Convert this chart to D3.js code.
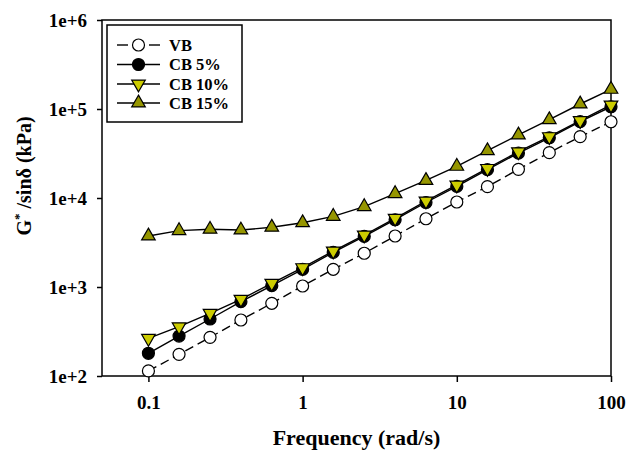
<!DOCTYPE html>
<html>
<head>
<meta charset="utf-8">
<script src="https://cdn.jsdelivr.net/npm/d3@7"></script>
<style>
  body { margin: 0; background: #fff; }
  text { font-family: "Liberation Serif", "Times New Roman", serif; font-weight: bold; fill: #000; }
</style>
</head>
<body>
<svg id="chart" width="627" height="450"></svg>
<script>
// frequency (rad/s)
var freq = [0.1, 0.158, 0.251, 0.398, 0.631, 1, 1.58, 2.51, 3.98, 6.31, 10, 15.8, 25.1, 39.8, 63.1, 100];
// G*/sin(delta), kPa
var vb    = [114, 175, 272, 426, 656, 1026, 1581, 2393, 3741, 5848, 9016, 13400, 21000, 32300, 48900, 71900];
var cb5   = [180, 281, 437, 684, 1035, 1581, 2450, 3700, 5700, 8900, 13500, 20800, 32000, 47500, 72000, 106000];
var cb10  = [265, 358, 506, 728, 1101, 1648, 2535, 3837, 5916, 9247, 14000, 21500, 33100, 48900, 74000, 111000];
var cb15  = [3740, 4300, 4450, 4365, 4690, 5270, 6220, 8000, 11190, 15740, 22700, 33960, 51050, 75860, 113800, 166300];
var xTicks = [0.1, 1, 10, 100];
var yTicks = [1e2, 1e3, 1e4, 1e5, 1e6];
var yTickLabels = ["1e+2", "1e+3", "1e+4", "1e+5", "1e+6"];

var svg = d3.select( "#chart" );
var pLeft = 102, pRight = 611, pTop = 20, pBottom = 376;

var x = d3.scaleLog().domain( [ 0.05, 100 ] ).range( [ pLeft, pRight ] );
var y = d3.scaleLog().domain( [ 1e2, 1e6 ] ).range( [ pBottom, pTop ] );

var series = [
    { name: "VB",     values: vb,   shape: "circle", fill: "#fff",    dash: "9,5" },
    { name: "CB 5%",  values: cb5,  shape: "circle", fill: "#000",    dash: null },
    { name: "CB 10%", values: cb10, shape: "down",   fill: "#cccc00", dash: null },
    { name: "CB 15%", values: cb15, shape: "up",     fill: "#969600", dash: null }
];

var tri = d3.symbol().type( d3.symbolTriangle ).size( 80 );

function drawMarker( sel, s ) {
    if ( s.shape == "circle" ) {
        sel.append( "circle" ).attr( "r", 6 )
            .attr( "fill", s.fill ).attr( "stroke", "#000" ).attr( "stroke-width", 1.2 );
    } else {
        sel.append( "path" ).attr( "d", tri )
            .attr( "transform", s.shape == "down" ? "rotate(180)" : null )
            .attr( "fill", s.fill ).attr( "stroke", "#000" ).attr( "stroke-width", 1.2 );
    }
}

// frame
svg.append( "rect" )
    .attr( "x", pLeft ).attr( "y", pTop )
    .attr( "width", pRight - pLeft ).attr( "height", pBottom - pTop )
    .attr( "fill", "none" ).attr( "stroke", "#000" ).attr( "stroke-width", 1.5 );

// axes
var xAxis = svg.append( "g" )
    .attr( "transform", "translate(0," + pBottom + ")" )
    .call( d3.axisBottom( x ).tickValues( xTicks ).tickFormat( d3.format( "" ) ).tickSizeOuter( 0 ).tickSize( 6 ).tickPadding( 14 ) );
var yAxis = svg.append( "g" )
    .attr( "transform", "translate(" + pLeft + ",0)" )
    .call( d3.axisLeft( y ).tickValues( yTicks ).tickFormat( function( d, i ) { return yTickLabels[ i ]; } ).tickSizeOuter( 0 ).tickSize( 5 ).tickPadding( 10 ) );
[ xAxis, yAxis ].forEach( function( a ) {
    a.select( ".domain" ).remove();
    a.selectAll( "line" ).attr( "stroke", "#000" ).attr( "stroke-width", 1.5 );
    a.selectAll( "text" ).attr( "font-size", 19 ).attr( "font-family", null ).style( "fill", "#000" );
} );

// axis titles
svg.append( "text" )
    .attr( "x", ( pLeft + pRight ) / 2 ).attr( "y", 445 )
    .attr( "text-anchor", "middle" ).attr( "font-size", 22 )
    .text( "Frequency (rad/s)" );
var yt = svg.append( "text" )
    .attr( "transform", "translate(31,176) rotate(-90)" )
    .attr( "text-anchor", "middle" ).attr( "font-size", 20 );
yt.append( "tspan" ).text( "G" );
yt.append( "tspan" ).attr( "dy", -8 ).attr( "font-size", 13 ).text( "*" );
yt.append( "tspan" ).attr( "dy", 8 ).text( " /sin\u03b4 (kPa)" );

// lines and markers
var line = d3.line()
    .x( function( d ) { return x( d[ 0 ] ); } )
    .y( function( d ) { return y( d[ 1 ] ); } );

series.forEach( function( s ) {
    var pts = freq.map( function( f, i ) { return [ f, s.values[ i ] ]; } );
    svg.append( "path" ).datum( pts )
        .attr( "d", line )
        .attr( "fill", "none" ).attr( "stroke", "#000" ).attr( "stroke-width", 1.4 )
        .attr( "stroke-dasharray", s.dash );
} );
series.forEach( function( s ) {
    var pts = freq.map( function( f, i ) { return [ f, s.values[ i ] ]; } );
    svg.selectAll( null ).data( pts ).enter().append( "g" )
        .attr( "transform", function( d ) { return "translate(" + x( d[ 0 ] ) + "," + y( d[ 1 ] ) + ")"; } )
        .each( function() { drawMarker( d3.select( this ), s ); } );
} );

// legend
var lg = svg.append( "g" );
lg.append( "rect" )
    .attr( "x", 107 ).attr( "y", 25 ).attr( "width", 135 ).attr( "height", 97 )
    .attr( "fill", "#fff" ).attr( "stroke", "#000" ).attr( "stroke-width", 1.5 );
var rowY = [ 45, 64.5, 84, 103 ];
series.forEach( function( s, i ) {
    var row = lg.append( "g" ).attr( "transform", "translate(0," + rowY[ i ] + ")" );
    if ( s.dash ) {
        row.append( "line" ).attr( "x1", 117 ).attr( "x2", 128 ).attr( "stroke", "#000" ).attr( "stroke-width", 1.4 );
        row.append( "line" ).attr( "x1", 149 ).attr( "x2", 160 ).attr( "stroke", "#000" ).attr( "stroke-width", 1.4 );
    } else {
        row.append( "line" ).attr( "x1", 117 ).attr( "x2", 160 ).attr( "stroke", "#000" ).attr( "stroke-width", 1.4 );
    }
    var m = row.append( "g" ).attr( "transform", "translate(138.5,0)" );
    drawMarker( m, s );
    row.append( "text" ).attr( "x", 169 ).attr( "y", 5.5 ).attr( "font-size", 16.5 ).text( s.name );
} );
</script>
</body>
</html>
